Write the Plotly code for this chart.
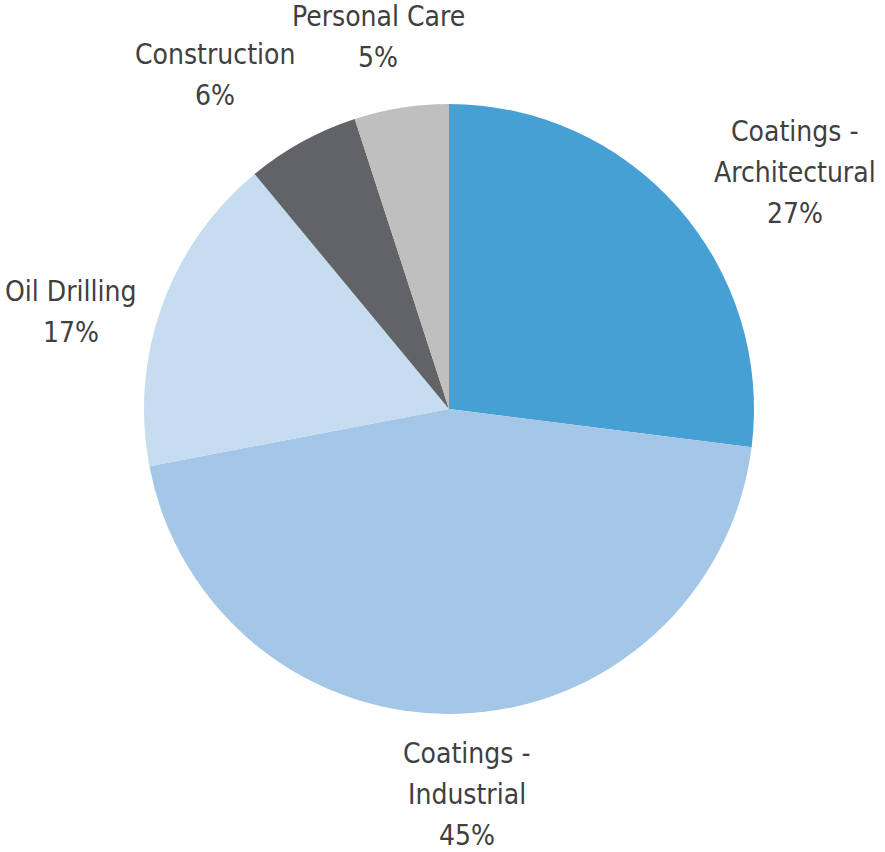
import plotly.graph_objects as go

categories = ["Coatings - Architectural", "Coatings - Industrial", "Oil Drilling", "Construction", "Personal Care"]
values = [27, 45, 17, 6, 5]
colors = ["#46A0D4", "#A4C6E7", "#C6DCF0", "#626366", "#BFBFBF"]
label_lines = [["Coatings -", "Architectural"], ["Coatings -", "Industrial"], ["Oil Drilling"], ["Construction"], ["Personal Care"]]

W, H = 885, 852
cx, cy, r = 449, 409, 305

fig = go.Figure(go.Pie(
    labels=categories, values=values, sort=False, direction="clockwise",
    rotation=0, marker=dict(colors=colors, line=dict(width=0)),
    textinfo="none", hoverinfo="label+percent", showlegend=False,
    domain=dict(x=[(cx - r) / W, (cx + r) / W], y=[(H - cy - r) / H, (H - cy + r) / H]),
))

# label anchor positions (pixel centre of first line) and line spacing
label_pos = [(795, 131), (467, 753), (71, 291), (215, 55), (378, 16)]
line_gap = 41
annotations = []
for lines, v, (lx, ly) in zip(label_lines, values, label_pos):
    for i, t in enumerate(lines + [f"{v}%"]):
        annotations.append(dict(
            x=lx / W, y=1 - (ly + i * line_gap) / H, xref="paper", yref="paper",
            text=t, showarrow=False, xanchor="center", yanchor="middle",
            font=dict(family="DejaVu Sans Condensed", size=28, color="#404040"),
        ))

fig.update_layout(width=W, height=H, margin=dict(l=0, r=0, t=0, b=0),
                  paper_bgcolor="white", plot_bgcolor="white", annotations=annotations)
fig.write_html("out.html")
